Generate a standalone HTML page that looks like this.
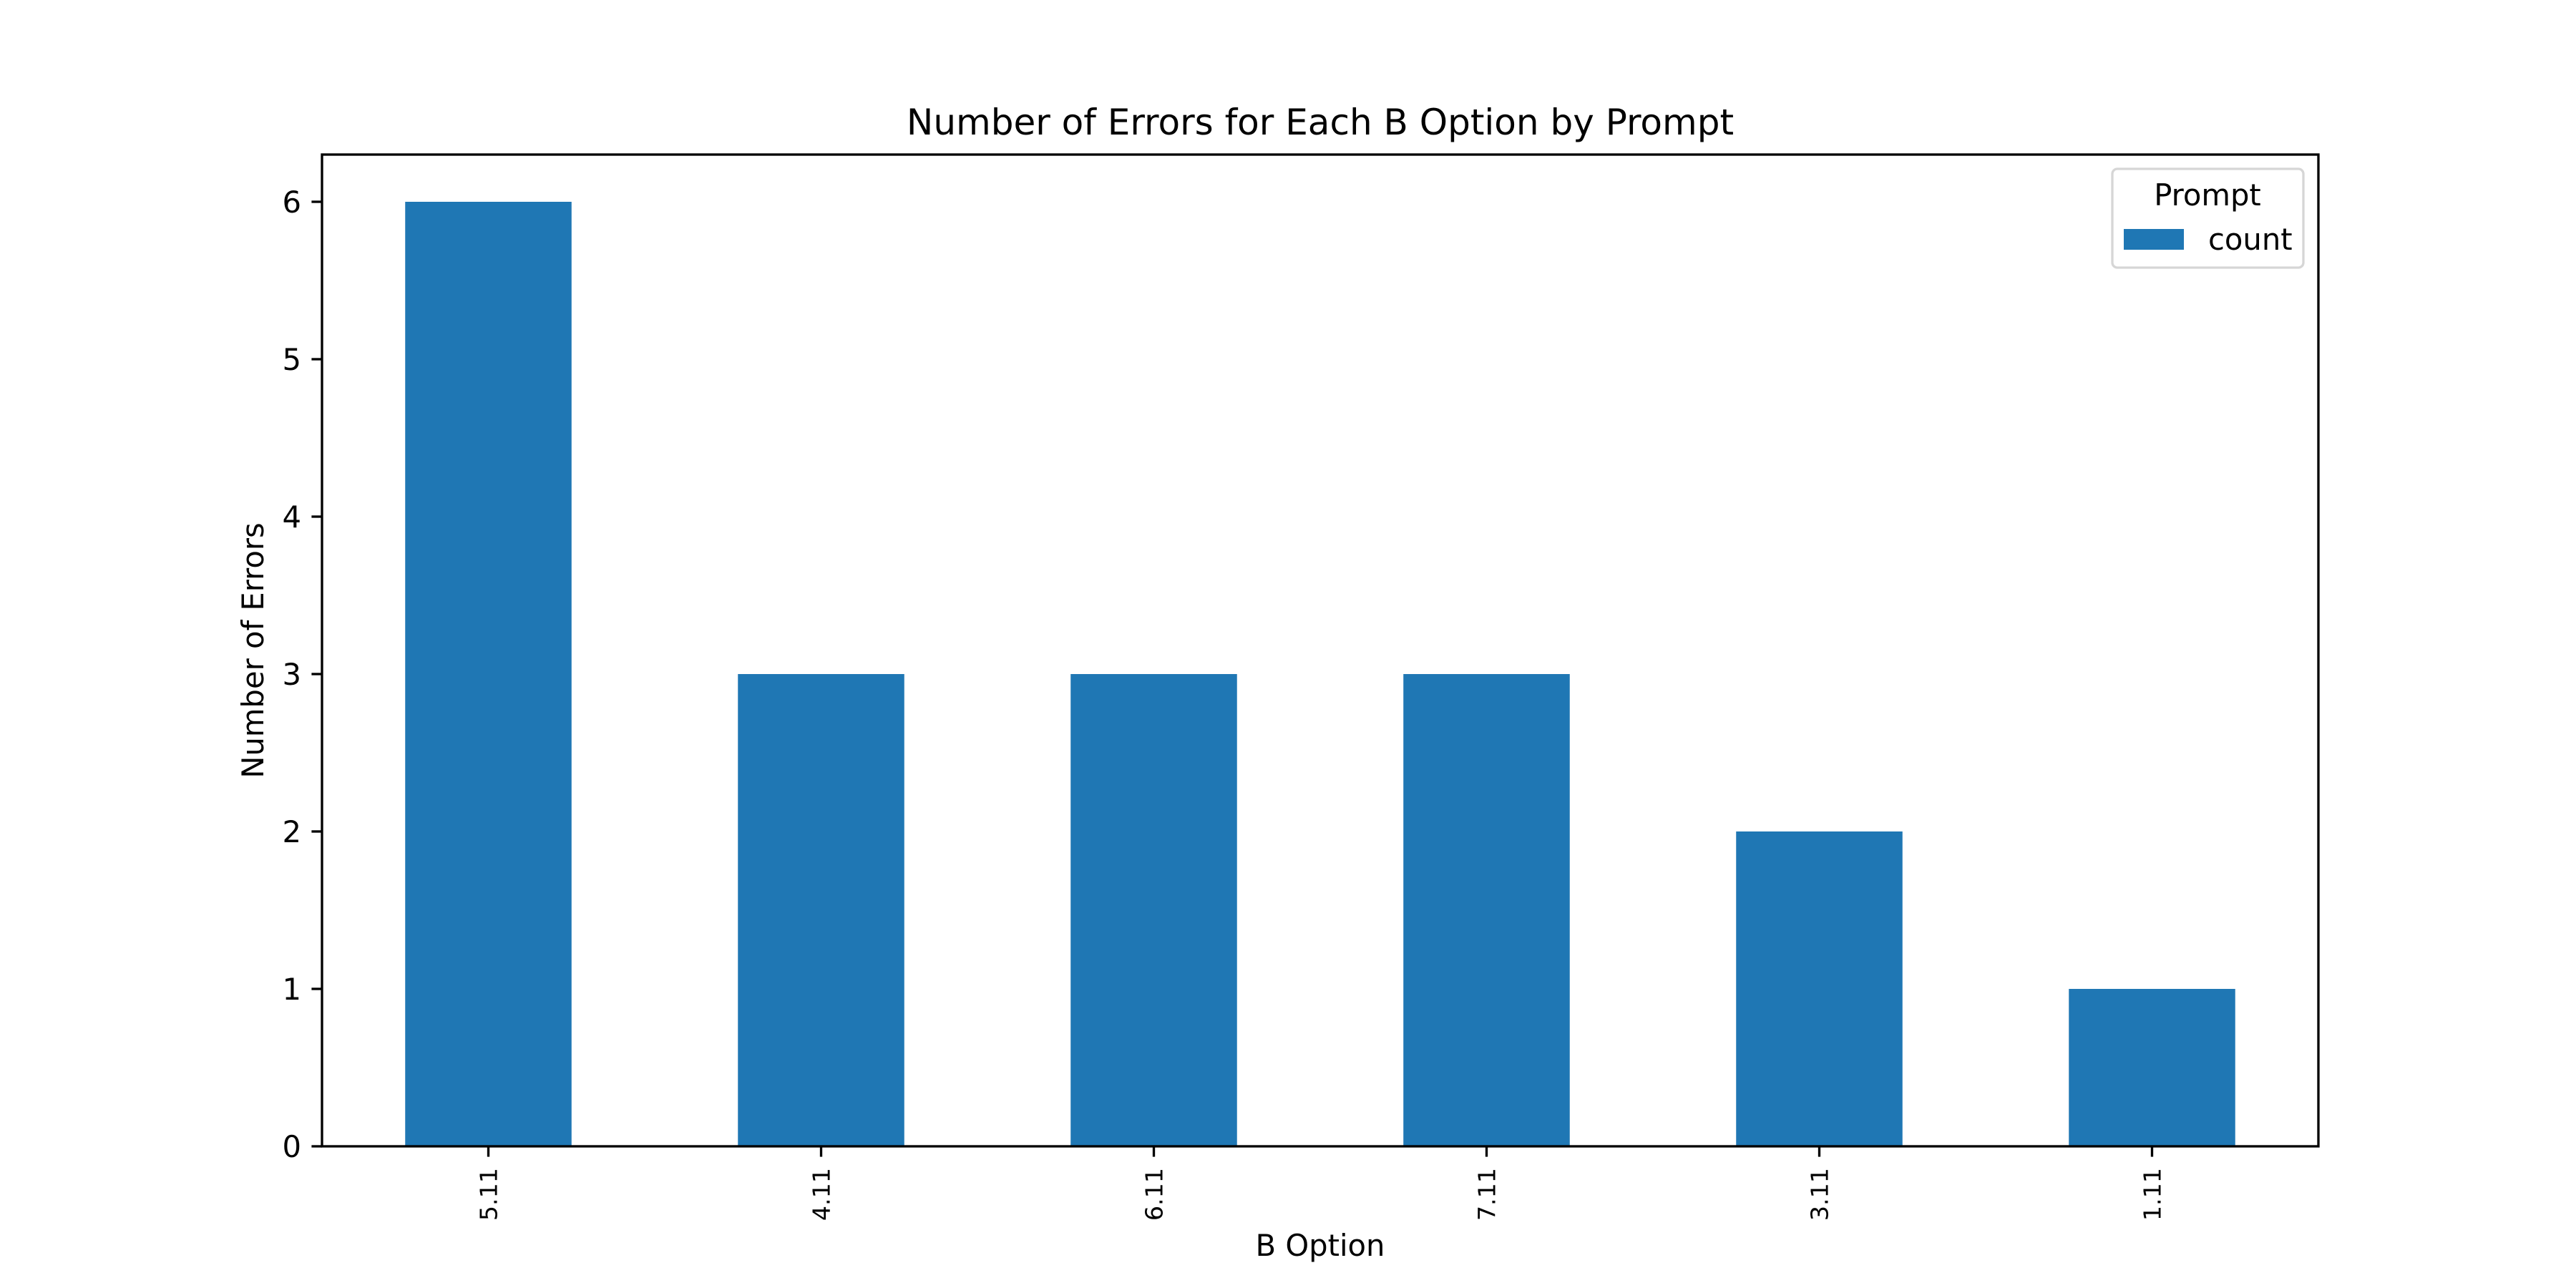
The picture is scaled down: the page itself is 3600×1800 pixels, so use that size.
<!DOCTYPE html>
<html><head><meta charset="utf-8"><style>
html,body{margin:0;padding:0;background:#fff;}
svg{display:block;font-family:"DejaVu Sans","Liberation Sans",sans-serif;}
</style></head><body>
<svg id="chart" width="3600" height="1800" viewBox="0 0 3600 1800" xmlns="http://www.w3.org/2000/svg">
<rect width="3600" height="1800" fill="#fff"/>
<g id="bars"></g>
<g id="xticks"></g>
<g id="yticks"></g>
<rect x="450" y="216" width="2790" height="1386" fill="none" stroke="#000" stroke-width="3.33"/>
<text x="1845" y="188" font-size="50" text-anchor="middle">Number of Errors for Each B Option by Prompt</text>
<text x="1845" y="1755" font-size="41.7" text-anchor="middle">B Option</text>
<text x="0" y="0" font-size="41.7" text-anchor="middle" transform="translate(368,909) rotate(-90)">Number of Errors</text>
<g>
<rect x="2952" y="236" width="267" height="138" rx="7" fill="#fff" fill-opacity="0.8" stroke="#d6d6d6" stroke-width="3.33"/>
<text x="3085" y="287" font-size="41.7" text-anchor="middle">Prompt</text>
<rect x="2968" y="320" width="84" height="29" fill="#1f77b4"/>
<text x="3086" y="349" font-size="41.7">count</text>
</g>
</svg>
<script>
const categories = ["5.11","4.11","6.11","7.11","3.11","1.11"];
const counts = [6,3,3,3,2,1];
const yTickValues = [0,1,2,3,4,5,6];
const NS="http://www.w3.org/2000/svg";
const L=450,R=3240,T=216,B=1602;
const yMax=Math.max(...counts)*1.05;
function xPos(i){return L+(i+0.5)*(R-L)/categories.length;}
function yPos(v){return B-(v/yMax)*(B-T);}
const bw=0.5*(R-L)/categories.length;
const gb=document.getElementById('bars'),gx=document.getElementById('xticks'),gy=document.getElementById('yticks');
categories.forEach((c,i)=>{
  const r=document.createElementNS(NS,'rect');
  
  
  r.setAttribute('x',xPos(i)-bw/2);r.setAttribute('width',bw);
  r.setAttribute('y',yPos(counts[i]));r.setAttribute('height',B-yPos(counts[i]));
  r.setAttribute('fill','#1f77b4');gb.appendChild(r);
  const t=document.createElementNS(NS,'line');
  
  
  t.setAttribute('x1',xPos(i));t.setAttribute('x2',xPos(i));t.setAttribute('y1',B);t.setAttribute('y2',B+14.6);
  t.setAttribute('stroke','#000');t.setAttribute('stroke-width','3.33');gx.appendChild(t);
  const tx=document.createElementNS(NS,'text');
  
  
  tx.setAttribute('font-size','33.3');tx.setAttribute('text-anchor','end');
  tx.setAttribute('transform','translate('+(xPos(i)+12)+','+(B+30)+') rotate(-90)');
  tx.textContent=c;gx.appendChild(tx);
});
yTickValues.forEach(v=>{
  const t=document.createElementNS(NS,'line');
  
  
  t.setAttribute('x1',L-14.6);t.setAttribute('x2',L);t.setAttribute('y1',yPos(v));t.setAttribute('y2',yPos(v));
  t.setAttribute('stroke','#000');t.setAttribute('stroke-width','3.33');gy.appendChild(t);
  const tx=document.createElementNS(NS,'text');
  
  
  tx.setAttribute('font-size','41.7');tx.setAttribute('text-anchor','end');
  tx.setAttribute('x',L-29);tx.setAttribute('y',yPos(v)+15);
  tx.textContent=v;gy.appendChild(tx);
});
</script>
</body></html>
